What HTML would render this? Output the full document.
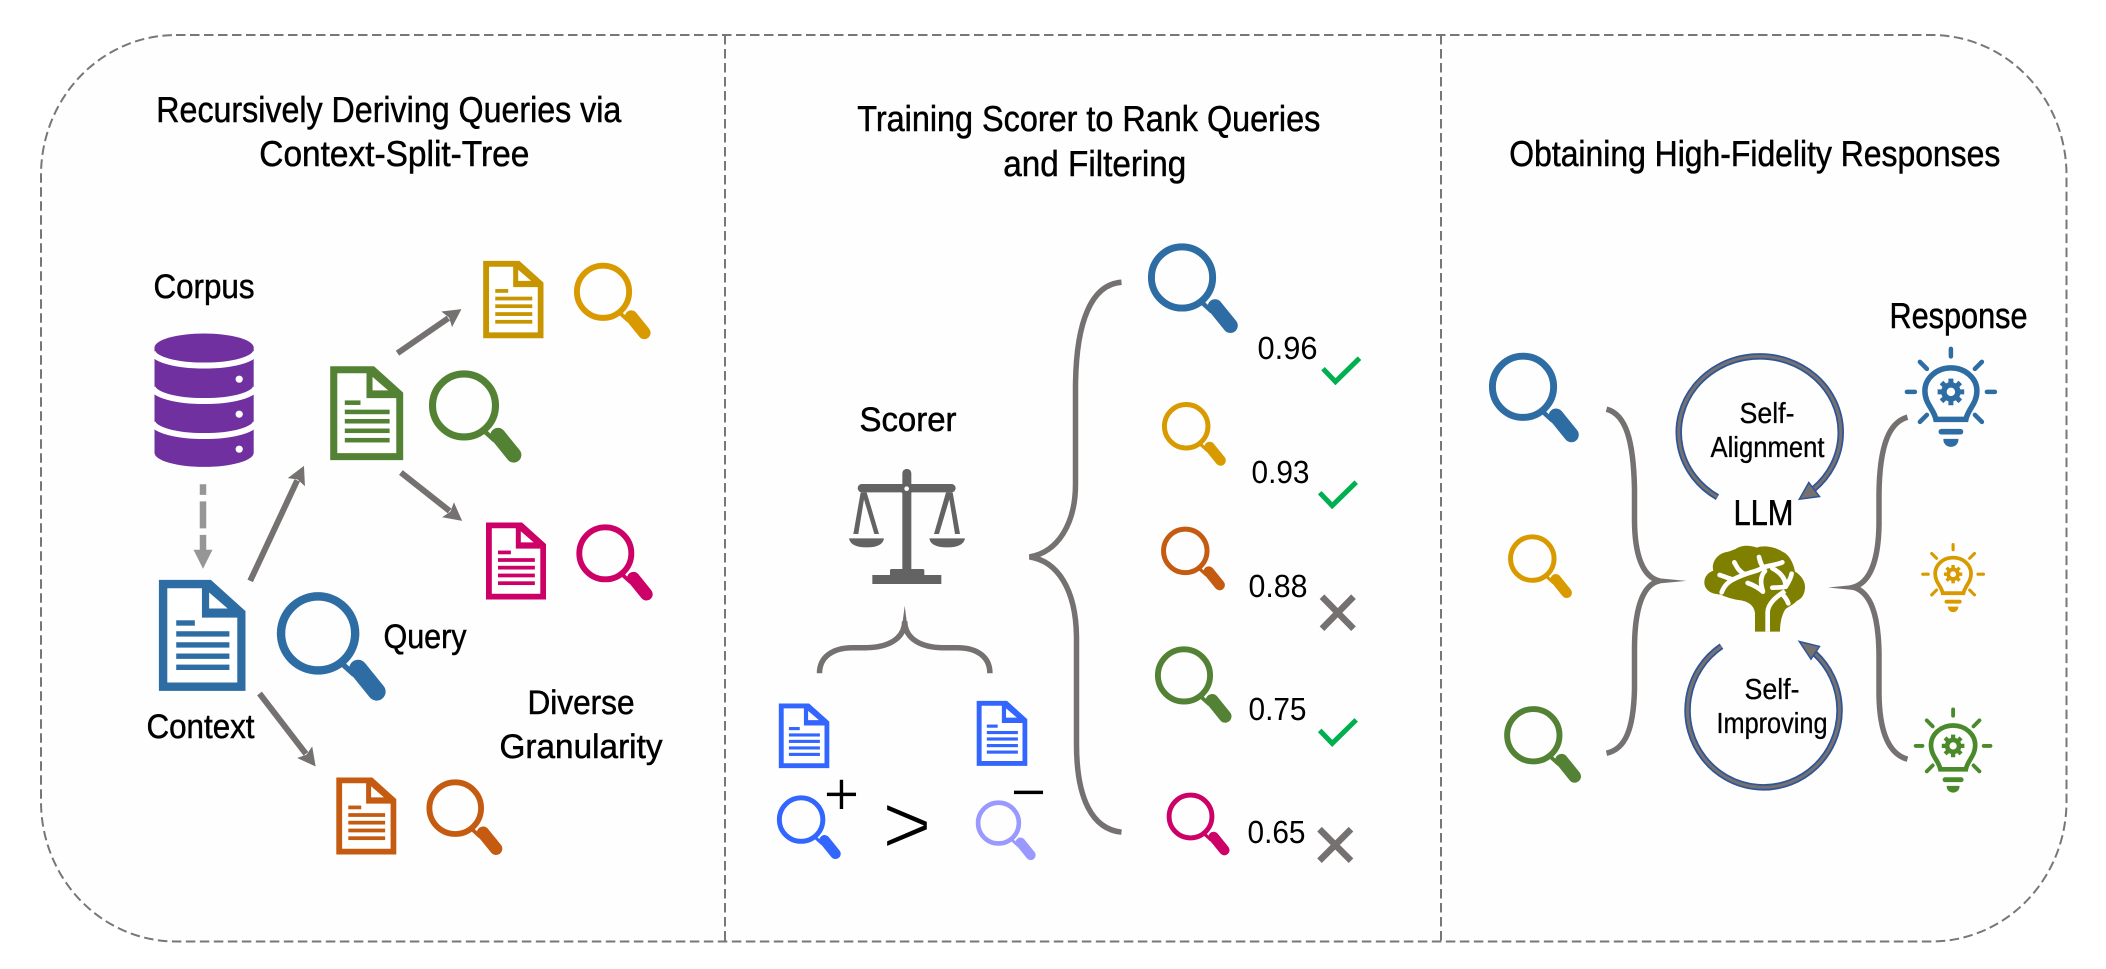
<!DOCTYPE html>
<html lang="en">
<head>
<meta charset="utf-8">
<title>Diagram</title>
<style>
html,body{margin:0;padding:0;background:#fff;}
svg{display:block;}
text{font-family:"Liberation Sans Narrow","Liberation Sans",sans-serif;fill:#000;text-rendering:geometricPrecision;}
.t{font-size:36px;stroke:#000;stroke-width:.5px;}
.l{font-size:34px;stroke:#000;stroke-width:.5px;}
.n{font-size:32px;}
.s{font-size:29px;stroke:#000;stroke-width:.3px;}
.p{font-family:"Liberation Sans",sans-serif;stroke:#fff;}
.br{fill:none;stroke:#767171;stroke-width:5.5;}
.ar{stroke:#767171;stroke-width:6;fill:none;}
.ck{fill:none;stroke:#00b050;stroke-width:5;}
.xx{stroke:#767171;stroke-width:6.5;}
</style>
</head>
<body>
<svg xmlns="http://www.w3.org/2000/svg" width="2106" height="969" viewBox="0 0 2106 969">
<defs>
  <g id="d">
    <path d="M0 0H60L100 36V128H0Z" fill="currentColor"/>
    <path d="M9.7 9.6H49.7V43.5H90.5V118.4H9.7Z" fill="#fff"/>
    <path d="M58 14.6L79.4 33H58Z" fill="#fff"/>
    <g fill="currentColor">
      <rect x="20" y="46.6" width="21.5" height="6.2"/>
      <rect x="20" y="59.2" width="61.4" height="6.2"/>
      <rect x="20" y="71.9" width="61.4" height="6.2"/>
      <rect x="20" y="84.9" width="61.4" height="6.2"/>
      <rect x="20" y="97.7" width="61.4" height="6.2"/>
    </g>
  </g>
  <g id="m" fill="none" stroke="currentColor">
    <circle cx="37.8" cy="38.1" r="34" stroke-width="7.7"/>
    <path d="M60 66L71 76" stroke-width="5"/>
    <path d="M74.5 70.5L91.5 91.5" stroke-width="16.5" stroke-linecap="round"/>
  </g>
  <g id="b" fill="none" stroke="currentColor">
    <path d="M-15 27.5C-17 17-26 12-26-1A26 23 0 0 1 26-1C26 12 17 17 15 27.5Z" stroke-width="5.5"/>
    <path d="M-9.5 39.8H9.500" stroke-width="5.7" stroke-linecap="round"/>
    <path d="M-7.5 47H7.5V48A7.5 7 0 0 1-7.500 48Z" fill="currentColor" stroke="none"/>
    <g stroke-width="4.5" stroke-linecap="round">
      <path d="M0-43V-35.5M-44 0H-36M44 0H36M-31-30L-24-23M31-30L24-23M-31 30L-24 23M31 30L24 23"/>
    </g>
    <circle r="7" stroke-width="5.500"/>
    <path d="M0-9V-13.300M0 9V13.300M-9 0H-13.300M9 0H13.300M-6.400-6.400L-9.400-9.400M6.400-6.400L9.400-9.400M-6.400 6.400L-9.400 9.400M6.400 6.400L9.400 9.400" stroke-width="5"/>
  </g>
  <marker id="ah" markerUnits="userSpaceOnUse" markerWidth="24" markerHeight="24" refX="2" refY="12" orient="auto">
    <path d="M0 2.5L18 12L0 21.5L3 12Z" fill="#767171"/>
  </marker>
</defs>

<rect width="2106" height="969" fill="#fff"/>

<!-- frame -->
<rect x="41" y="35" width="2025.500" height="906.500" rx="135" ry="140" fill="#fefefe" stroke="#7a7676" stroke-width="2" stroke-dasharray="9.5 4.5"/>
<path d="M725 35V941M1441 35V941" stroke="#7a7676" stroke-width="2" stroke-dasharray="9.5 4.5" fill="none"/>

<!-- titles -->
<g transform="translate(-.7 0)">
<text class="t" x="157" y="122" textLength="465" lengthAdjust="spacingAndGlyphs">Recursively Deriving Queries via</text>
<text class="t" x="260" y="166" textLength="270" lengthAdjust="spacingAndGlyphs">Context-Split-Tree</text>
<text class="t" x="858" y="131" textLength="463" lengthAdjust="spacingAndGlyphs">Training Scorer to Rank Queries</text>
<text class="t" x="1004" y="176" textLength="183" lengthAdjust="spacingAndGlyphs">and Filtering</text>
<text class="t" x="1510" y="166" textLength="491" lengthAdjust="spacingAndGlyphs">Obtaining High-Fidelity Responses</text>
</g>

<!-- other labels -->
<g transform="translate(-1.5 0)">
<text class="l" x="155" y="298" textLength="101" lengthAdjust="spacingAndGlyphs">Corpus</text>
<text class="l" x="148" y="738" textLength="108" lengthAdjust="spacingAndGlyphs">Context</text>
<text class="l" x="385" y="648" textLength="83" lengthAdjust="spacingAndGlyphs">Query</text>
<text class="l" x="529" y="714" textLength="107" lengthAdjust="spacingAndGlyphs">Diverse</text>
<text class="l" x="501" y="758" textLength="163" lengthAdjust="spacingAndGlyphs">Granularity</text>
<text class="l" x="861" y="431" textLength="97" lengthAdjust="spacingAndGlyphs">Scorer</text>
<text class="n" x="1259" y="359" textLength="60" lengthAdjust="spacingAndGlyphs">0.96</text>
<text class="n" x="1253" y="483" textLength="58" lengthAdjust="spacingAndGlyphs">0.93</text>
<text class="n" x="1250" y="597" textLength="59" lengthAdjust="spacingAndGlyphs">0.88</text>
<text class="n" x="1250" y="720" textLength="58" lengthAdjust="spacingAndGlyphs">0.75</text>
<text class="n" x="1249" y="843" textLength="58" lengthAdjust="spacingAndGlyphs">0.65</text>
<text class="t" x="1891" y="328" textLength="138" lengthAdjust="spacingAndGlyphs">Response</text>
<text class="t" x="1735" y="525" textLength="60" lengthAdjust="spacingAndGlyphs">LLM</text>
<text class="s" x="1741" y="423" textLength="55" lengthAdjust="spacingAndGlyphs">Self-</text>
<text class="s" x="1712" y="457" textLength="114" lengthAdjust="spacingAndGlyphs">Alignment</text>
<text class="s" x="1746" y="699" textLength="55" lengthAdjust="spacingAndGlyphs">Self-</text>
<text class="s" x="1718" y="733" textLength="111" lengthAdjust="spacingAndGlyphs">Improving</text>
</g>

<g transform="translate(-2.500 -.8)">
<!-- database -->
<path d="M157 348.500A49.600 14.200 0 0 1 256.200 348.500V453.500A49.600 14.200 0 0 1 157 453.500Z" fill="#7030a0"/>
<g fill="none" stroke="#fff" stroke-width="6">
  <path d="M155.200 352A51 14.200 0 0 0 258.200 352"/>
  <path d="M155.200 387.500A51 14.200 0 0 0 258.200 387.500"/>
  <path d="M155.200 422.500A51 14.200 0 0 0 258.200 422.500"/>
</g>
<g fill="#fff">
  <circle cx="241.700" cy="380" r="3.600"/>
  <circle cx="241.700" cy="415" r="3.600"/>
  <circle cx="241.700" cy="450" r="3.600"/>
</g>

<!-- dashed arrow -->
<path d="M205.500 485V552" stroke="#969696" stroke-width="6.500" stroke-dasharray="27 6.5" stroke-dashoffset="16.300" fill="none"/>
<path d="M196 550.500H215L205.500 569.500Z" fill="#969696"/>

<!-- arrows -->
<path class="ar" d="M400 354L450.800 319" marker-end="url(#ah)"/>
<path class="ar" d="M252.700 581.700L299.700 481.200" marker-end="url(#ah)"/>
<path class="ar" d="M403.400 473.300L452.100 511.800" marker-end="url(#ah)"/>
<path class="ar" d="M262 694.300L308.400 754.600" marker-end="url(#ah)"/>

<!-- panel 1 docs -->
<use href="#d" transform="translate(485.700 261.700) scale(.603 .604)" style="color:#c79500"/>
<use href="#d" transform="translate(332.700 367) scale(.73 .734)" style="color:#548235"/>
<use href="#d" transform="translate(161.400 580.700) scale(.866 .867)" style="color:#2e6ca4"/>
<use href="#d" transform="translate(488.500 523.300) scale(.6 .602)" style="color:#cc0066"/>
<use href="#d" transform="translate(338.800 778.300) scale(.6 .602)" style="color:#c55a11"/>

<!-- panel 1 magnifiers -->
<use href="#m" transform="translate(576.500 263.300) scale(.768)" style="color:#d99a00"/>
<use href="#m" transform="translate(431.500 371) scale(.926)" style="color:#548235"/>
<use href="#m" transform="translate(279.400 592.700) scale(1.09)" style="color:#2e6ca4"/>
<use href="#m" transform="translate(578.900 525) scale(.765)" style="color:#cc0066"/>
<use href="#m" transform="translate(429 780) scale(.76)" style="color:#c55a11"/>

<!-- small brace -->
<path class="br" d="M822 674C822 658 835 648.500 855 648.500H868C890 648.500 907 640 907.200 622C907.400 640 924 648.500 946 648.500H960C980 648.500 992.400 658 992.400 674"/>
<path d="M904.700 626L907.200 606.500L909.700 626Z" fill="#767171"/>

<!-- big brace -->
<path class="br" d="M1124 283C1095 285 1078 320 1078 390V485C1078 525 1060 553 1032 557.700C1060 562 1079 590 1079 640V745C1079 800 1095 830 1124 833"/>

<!-- panel 2 docs -->
<use href="#d" transform="translate(781.300 704.300) scale(.505 .505)" style="color:#3366ff"/>
<use href="#d" transform="translate(979.200 701.700) scale(.506 .508)" style="color:#3366ff"/>

<!-- panel 2 magnifiers -->
<use href="#m" transform="translate(1150.500 244) scale(.9)" style="color:#2e6ca4"/>
<use href="#m" transform="translate(1164.500 402.700) scale(.64)" style="color:#d99a00"/>
<use href="#m" transform="translate(1163.600 527.300) scale(.64)" style="color:#c55a11"/>
<use href="#m" transform="translate(1157.500 647) scale(.767)" style="color:#548235"/>
<use href="#m" transform="translate(1169.200 793.300) scale(.63)" style="color:#cc0066"/>
<use href="#m" transform="translate(779.400 796) scale(.64)" style="color:#3366ff"/>
<use href="#m" transform="translate(978.300 801) scale(.6)" style="color:#9999ff"/>

<text class="p" x="844" y="816" font-size="62" text-anchor="middle" stroke-width="1">+</text>
<text class="p" x="1031" y="814" font-size="62" text-anchor="middle" stroke-width="1">−</text>
<text class="p" x="909.500" y="854.500" font-size="85" text-anchor="middle" stroke-width="1.600">&gt;</text>

<path class="ck" d="M1325.500 369.500L1338 382.500L1362 359"/>
<path class="ck" d="M1322.200 493.500L1334.700 506.500L1358.700 483"/>
<path class="ck" d="M1322.200 731.200L1334.700 744.200L1358.700 720.700"/>

<path class="xx" d="M1324.500 597.500L1356 629.500M1356 597.500L1324.500 629.500"/>
<path class="xx" d="M1322 830L1353.500 861.500M1353.500 830L1322 861.500"/>

<use href="#m" transform="translate(1491.500 353.300) scale(.9)" style="color:#2e6ca4"/>
<use href="#m" transform="translate(1510.600 535) scale(.64)" style="color:#d99a00"/>
<use href="#m" transform="translate(1506.700 706.700) scale(.77)" style="color:#548235"/>

<!-- left brace -->
<path class="br" d="M1609 410C1628 415 1636 440 1637 490V520C1637 555 1645 578 1662 581.700C1645 585 1637 610 1637 650V690C1636 730 1628 750 1609 754"/>
<path d="M1657 578.700L1689 581.700L1657 584.700Z" fill="#767171"/>
<!-- right brace -->
<path class="br" d="M1910 418C1892 423 1882 445 1881.500 495V525C1881 560 1873 583 1856 588C1873 593 1881 615 1881.500 655V695C1882 735 1892 755 1910 760"/>
<path d="M1861 585.300L1830.500 588.300L1861 591.300Z" fill="#767171"/>

<!-- circular arrows -->
<g fill="none">
  <path d="M1720 498A81 76 0 1 1 1816 490" stroke="#2f5597" stroke-width="6.500"/>
  <path d="M1720 498A81 76 0 1 1 1816 490" stroke="#767171" stroke-width="3"/>
  <path d="M1724 647A76 77 0 1 0 1817 654" stroke="#2f5597" stroke-width="6.500"/>
  <path d="M1724 647A76 77 0 1 0 1817 654" stroke="#767171" stroke-width="3"/>
</g>
<path d="M1801.800 500L1811.300 483.300L1822 497.300Z" fill="#767171" stroke="#2f5597" stroke-width="1.500"/>
<path d="M1801.800 642.300L1822 647.300L1813.500 660Z" fill="#767171" stroke="#2f5597" stroke-width="1.500"/>

<!-- bulbs -->
<use href="#b" transform="translate(1953.400 392.700)" style="color:#2e6ca4"/>
<use href="#b" transform="translate(1955.600 575) scale(.69)" style="color:#d99a00"/>
<use href="#b" transform="translate(1955.600 746.700) scale(.85)" style="color:#4a8a2a"/>
</g>

<!-- scale -->
<g transform="translate(840 460) scale(.33333)">
  <g fill="#636363">
    <path d="M187 40A13.500 13.500 0 0 1 214 40V330H187Z"/>
    <rect x="53" y="72" width="294" height="25" rx="12.500"/>
    <circle cx="200" cy="86" r="19"/>
    <path d="M150 345V332Q150 327 155 327H248Q253 327 253 332V345Z"/>
    <rect x="97" y="345" width="207" height="27"/>
    <path d="M27 235H132Q128 262 80 262Q32 262 27 235Z"/>
    <path d="M268 235H375Q370 262 322 262Q272 262 268 235Z"/>
    <path d="M62 97H80L117 222H103L72 118L55 222H40Z"/>
    <path d="M318 97H338L360 222H345L328 118L297 222H282Z"/>
  </g>
  <circle cx="200" cy="86" r="7" fill="#fff"/>
</g>

<!-- brain -->
<g transform="translate(1695 535) scale(.33333)">
  <path d="M180 290V235C178 212 160 198 130 195C110 192 90 185 75 178C50 178 28 165 28 142C28 125 40 112 55 107C48 85 65 58 90 52C105 50 112 45 122 42C135 32 160 28 185 38C205 30 240 35 262 50C282 58 296 85 300 110C318 120 332 140 330 160C328 178 322 190 305 198C295 210 280 215 272 222C262 235 255 260 255 290Z" fill="#808000"/>
  <g fill="none" stroke="#fff" stroke-width="14" stroke-linecap="round" stroke-linejoin="round">
    <path d="M80 172C90 145 105 135 150 118C130 108 125 95 118 82"/>
    <path d="M74 120C90 125 100 130 112 133"/>
    <path d="M150 118C170 110 190 108 205 97C225 90 245 90 262 82M192 66C195 78 198 90 205 97"/>
    <path d="M232 100C255 112 272 130 272 155C255 158 245 158 232 158"/>
    <path d="M272 155C282 140 288 128 290 116"/>
    <path d="M158 144C175 150 190 158 204 170C196 145 195 125 210 108"/>
    <path d="M262 178C270 185 276 195 280 205"/>
    <path d="M270 168C245 185 218 205 218 232V290" stroke-linecap="butt"/>
  </g>
</g>
</svg>
</body>
</html>
